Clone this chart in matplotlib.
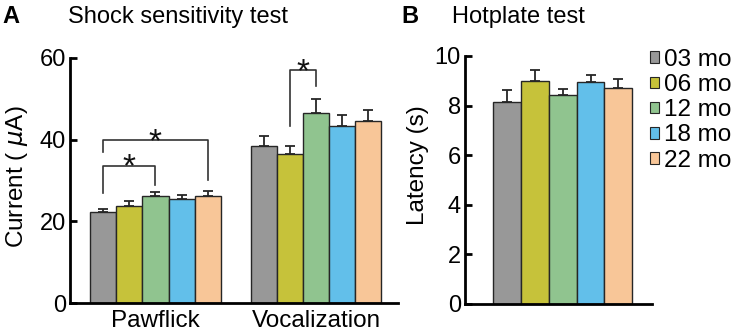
import matplotlib
matplotlib.use("Agg")
import matplotlib.pyplot as plt
import numpy as np

plt.rcParams['font.family'] = ['Liberation Sans', 'DejaVu Sans']
plt.rcParams['mathtext.fontset'] = 'dejavusans'

groups = ["03 mo", "06 mo", "12 mo", "18 mo", "22 mo"]
colors = ["#989898", "#c6c23a", "#90c48f", "#62bfea", "#f8c698"]

shock_categories = ["Pawflick", "Vocalization"]
pawflick_mean = [22.2, 23.8, 26.2, 25.4, 26.3]
pawflick_err = [0.8, 1.1, 1.1, 1.0, 1.1]
vocal_mean = [38.4, 36.5, 46.6, 43.4, 44.6]
vocal_err = [2.4, 1.9, 3.2, 2.6, 2.7]

hot_mean = [8.16, 8.98, 8.41, 8.95, 8.72]
hot_err = [0.47, 0.46, 0.27, 0.30, 0.36]

shock_ticks = [0, 20, 40, 60]
hot_ticks = [0, 2, 4, 6, 8, 10]

W, H = 742, 333
fig = plt.figure(figsize=(W / 100, H / 100), dpi=100)

def fx(px):
    return px / W

def fy(py):
    return 1 - py / H

axA = fig.add_axes([fx(70), fy(303.3), fx(398) - fx(70), fy(57.7) - fy(303.3)])
axB = fig.add_axes([fx(465), fy(304), fx(651.7) - fx(465), fy(56) - fy(304)])

edge = "#262626"
tick_fs = 17
cat_fs = 17.5
lab_fs = 17.5
title_fs = 17

def style(ax):
    for s in ["top", "right"]:
        ax.spines[s].set_visible(False)
    for s in ["left", "bottom"]:
        ax.spines[s].set_linewidth(2.0)
        ax.spines[s].set_color("black")
    ax.tick_params(axis="y", direction="in", length=5, width=2, pad=3, labelsize=tick_fs)
    ax.tick_params(axis="x", length=0, pad=5, labelsize=cat_fs)

# Panel A
offset = 6.13
xs1 = np.arange(5)
xs2 = np.arange(5) + offset
for i in range(5):
    for xs, m, e in [(xs1, pawflick_mean, pawflick_err), (xs2, vocal_mean, vocal_err)]:
        axA.bar(xs[i], m[i], width=1.0, color=colors[i], edgecolor=edge, linewidth=1.0, zorder=2)
        axA.errorbar(xs[i], m[i], yerr=[[0], [e[i]]], fmt="none", ecolor=edge,
                     elinewidth=1.3, capsize=3.5, capthick=1.3, zorder=1)
axA.set_xlim(-1.26, 11.26)
axA.set_ylim(0, 60)
axA.set_yticks(shock_ticks)
axA.set_xticks([2, 2 + offset])
axA.set_xticklabels(shock_categories)
axA.set_ylabel("Current ( $\\mu$A)", fontsize=lab_fs)
axA.yaxis.set_label_coords((30 - 70) / 328, 0.516)
style(axA)

def bracket(ax, x1, x2, ytop, yl, yr, star_y):
    ax.plot([x1, x1, x2, x2], [yl, ytop, ytop, yr], color="#333333", lw=1.2, zorder=3)
    ax.text((x1 + x2) / 2, star_y, "*", ha="center", va="center", fontsize=24, color="#111111")

bracket(axA, xs1[0], xs1[2], 33.5, 27.0, 28.8, 33.0)
bracket(axA, xs1[0], xs1[4], 39.8, 37.0, 30.2, 39.3)
bracket(axA, xs2[1], xs2[2], 56.9, 43.2, 53.0, 56.4)

# Panel B
xb = np.arange(5)
for i in range(5):
    axB.bar(xb[i], hot_mean[i], width=1.0, color=colors[i], edgecolor=edge, linewidth=1.0,
            zorder=2, label=groups[i])
    axB.errorbar(xb[i], hot_mean[i], yerr=[[0], [hot_err[i]]], fmt="none", ecolor=edge,
                 elinewidth=1.3, capsize=3.5, capthick=1.3, zorder=1)
axB.set_xlim(-1.52, 5.2)
axB.set_ylim(0, 10)
axB.set_yticks(hot_ticks)
axB.set_xticks([])
axB.set_ylabel("Latency (s)", fontsize=lab_fs)
axB.yaxis.set_label_coords((429 - 465) / 186.7, 0.56)
style(axB)

leg_fs = 17.5
leg = axB.legend(loc="upper left", bbox_to_anchor=(fx(650), fy(49)), bbox_transform=fig.transFigure,
                 frameon=False, fontsize=leg_fs, handlelength=0.36, handleheight=0.36,
                 handletextpad=0.22, labelspacing=0.13, borderpad=0, borderaxespad=0)
for p in leg.get_patches():
    p.set_linewidth(0.8)

fig.text(fx(2), fy(16.5), "A", fontsize=title_fs, fontweight="bold", va="center", ha="left")
fig.text(fx(68), fy(16.5), "Shock sensitivity test", fontsize=title_fs, va="center", ha="left")
fig.text(fx(401), fy(16.5), "B", fontsize=title_fs, fontweight="bold", va="center", ha="left")
fig.text(fx(452), fy(16.5), "Hotplate test", fontsize=title_fs, va="center", ha="left")

fig.savefig("out.png", dpi=100)
